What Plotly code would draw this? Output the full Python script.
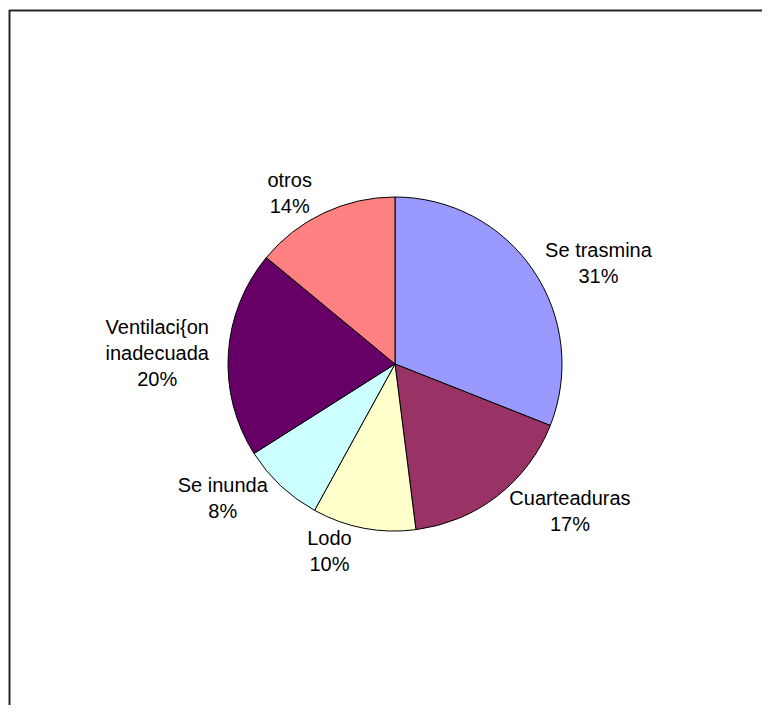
import plotly.graph_objects as go

labels = ["Se trasmina", "Cuarteaduras", "Lodo", "Se inunda",
          "Ventilaci{on<br>inadecuada", "otros"]
values = [31, 17, 10, 8, 20, 14]
colors = ["#9999FF", "#993366", "#FFFFCC", "#CCFFFF", "#660066", "#FF8080"]

# the page body has an 8px margin on every side; size the figure to fit inside it
W, H = 754, 697
CX, CY, R = 387, 356, 167  # pie centre / radius in figure pixels

fig = go.Figure(go.Pie(
    labels=labels,
    values=values,
    sort=False,
    direction="clockwise",
    rotation=0,
    marker=dict(colors=colors, line=dict(color="#000000", width=1)),
    texttemplate="%{label}<br>%{percent:.0%}",
    textposition="outside",
    outsidetextfont=dict(family="Liberation Sans, Arial, sans-serif", size=20, color="#000000"),
    hoverinfo="label+percent",
    domain=dict(x=[(CX - R) / W, (CX + R) / W],
                y=[(H - CY - R) / H, (H - CY + R) / H]),
    showlegend=False,
    automargin=False,
))

# frame edges (only top and left visible in the crop)
fig.add_shape(type="line", xref="paper", yref="paper",
              x0=1 / W, x1=1, y0=1 - 2.5 / H, y1=1 - 2.5 / H,
              line=dict(color="#262626", width=2))
fig.add_shape(type="line", xref="paper", yref="paper",
              x0=1.5 / W, x1=1.5 / W, y0=0, y1=1 - 2 / H,
              line=dict(color="#262626", width=2))

fig.update_layout(
    width=W, height=H,
    margin=dict(l=0, r=0, t=0, b=0),
    paper_bgcolor="white",
    plot_bgcolor="white",
    font=dict(family="Liberation Sans, Arial, sans-serif", size=20, color="#000000"),
)

fig.write_html("out.html", config={"displayModeBar": False},
               default_width=f"{W}px", default_height=f"{H}px")
